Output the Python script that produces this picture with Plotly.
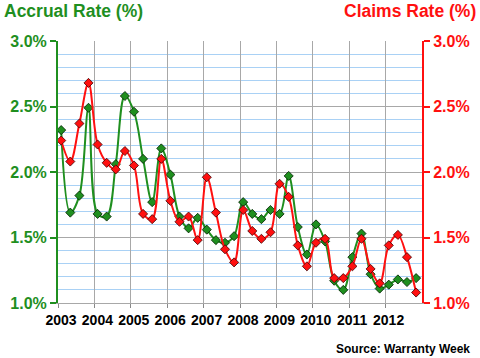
import plotly.graph_objects as go

years = [2003, 2004, 2005, 2006, 2007, 2008, 2009, 2010, 2011, 2012]
quarters_per_year = 4

accrual_rate = [2.32, 1.69, 1.82, 2.49, 1.68, 1.66, 2.06, 2.58, 2.46, 2.10,
                1.77, 2.18, 1.98, 1.66, 1.57, 1.65, 1.56, 1.48, 1.46, 1.51,
                1.77, 1.68, 1.64, 1.71, 1.68, 1.97, 1.58, 1.37, 1.60, 1.47,
                1.17, 1.10, 1.35, 1.53, 1.22, 1.11, 1.14, 1.18, 1.16, 1.19]

claims_rate = [2.24, 2.08, 2.37, 2.68, 2.21, 2.07, 2.02, 2.16, 2.05, 1.68,
               1.64, 2.10, 1.78, 1.62, 1.66, 1.48, 1.96, 1.69, 1.41, 1.31,
               1.71, 1.55, 1.49, 1.54, 1.91, 1.81, 1.44, 1.28, 1.46, 1.49,
               1.19, 1.19, 1.28, 1.49, 1.26, 1.15, 1.44, 1.52, 1.35, 1.08]

x_vals = [years[0] + (i + 0.35) / quarters_per_year for i in range(len(accrual_rate))]

GREEN = "#1f8f1f"
RED = "#ff1010"
FONT = "Liberation Sans"

fig = go.Figure()
fig.add_trace(go.Scatter(
    x=x_vals, y=claims_rate, mode="lines+markers", yaxis="y2", name="Claims Rate",
    line=dict(color=RED, width=2, shape="spline", smoothing=1.0),
    marker=dict(symbol="diamond", size=7, color=RED, line=dict(color="#400000", width=0.8)),
))
fig.add_trace(go.Scatter(
    x=x_vals, y=accrual_rate, mode="lines+markers", yaxis="y", name="Accrual Rate",
    line=dict(color=GREEN, width=2, shape="spline", smoothing=1.0),
    marker=dict(symbol="diamond", size=7, color=GREEN, line=dict(color="#002000", width=0.8)),
))

fig.update_layout(
    width=480, height=358,
    margin=dict(l=58, r=58, t=41, b=55),
    paper_bgcolor="white", plot_bgcolor="white",
    showlegend=False,
    xaxis=dict(
        range=[2003, 2013], tickvals=years, ticktext=[str(y) for y in years],
        showgrid=True, gridcolor="#a8a8a8", gridwidth=1,
        ticks="outside", ticklen=4, tickcolor="#888888",
        showline=True, linecolor="#a8a8a8", linewidth=1,
        tickfont=dict(family=FONT, size=14, color="black", weight="bold"),
        ticklabelshift=3,
        zeroline=False, fixedrange=True, automargin=False,
    ),
    yaxis=dict(
        range=[1.0, 3.0], dtick=0.5, tickformat=".1f", ticksuffix="%",
        showgrid=True, gridcolor="#a8a8a8", gridwidth=1,
        minor=dict(dtick=0.1, showgrid=True, gridcolor="#a9d1f5", gridwidth=1),
        ticks="outside", ticklen=6, tickwidth=2, tickcolor=GREEN,
        showline=True, linecolor=GREEN, linewidth=2,
        tickfont=dict(family=FONT, size=16, color=GREEN, weight="bold"),
        zeroline=False, fixedrange=True, automargin=False,
    ),
    yaxis2=dict(
        range=[1.0, 3.0], dtick=0.5, tickformat=".1f", ticksuffix="%",
        overlaying="y", side="right", showgrid=False,
        ticks="outside", ticklen=6, tickwidth=2, tickcolor=RED,
        showline=True, linecolor=RED, linewidth=2,
        tickfont=dict(family=FONT, size=16, color=RED, weight="bold"),
        zeroline=False, fixedrange=True, automargin=False,
    ),
    annotations=[
        dict(text="Accrual Rate (%)", xref="paper", yref="paper", x=-56/364, y=1 + 30/262,
             xanchor="left", yanchor="middle", showarrow=False,
             font=dict(family=FONT, size=17.5, color=GREEN, weight="bold")),
        dict(text="Claims Rate (%)", xref="paper", yref="paper", x=1 + 56/364, y=1 + 30/262,
             xanchor="right", yanchor="middle", showarrow=False,
             font=dict(family=FONT, size=17.5, color=RED, weight="bold")),
        dict(text="Source: Warranty Week", xref="paper", yref="paper", x=1 + 50/364, y=-46/262,
             xanchor="right", yanchor="middle", showarrow=False,
             font=dict(family=FONT, size=12, color="black", weight="bold")),
    ],
)

fig.write_html(
    "out.html",
    config={"displayModeBar": False},
    post_script="document.body.style.margin='0';document.body.style.padding='0';"
                "document.documentElement.style.overflow='hidden';",
)
